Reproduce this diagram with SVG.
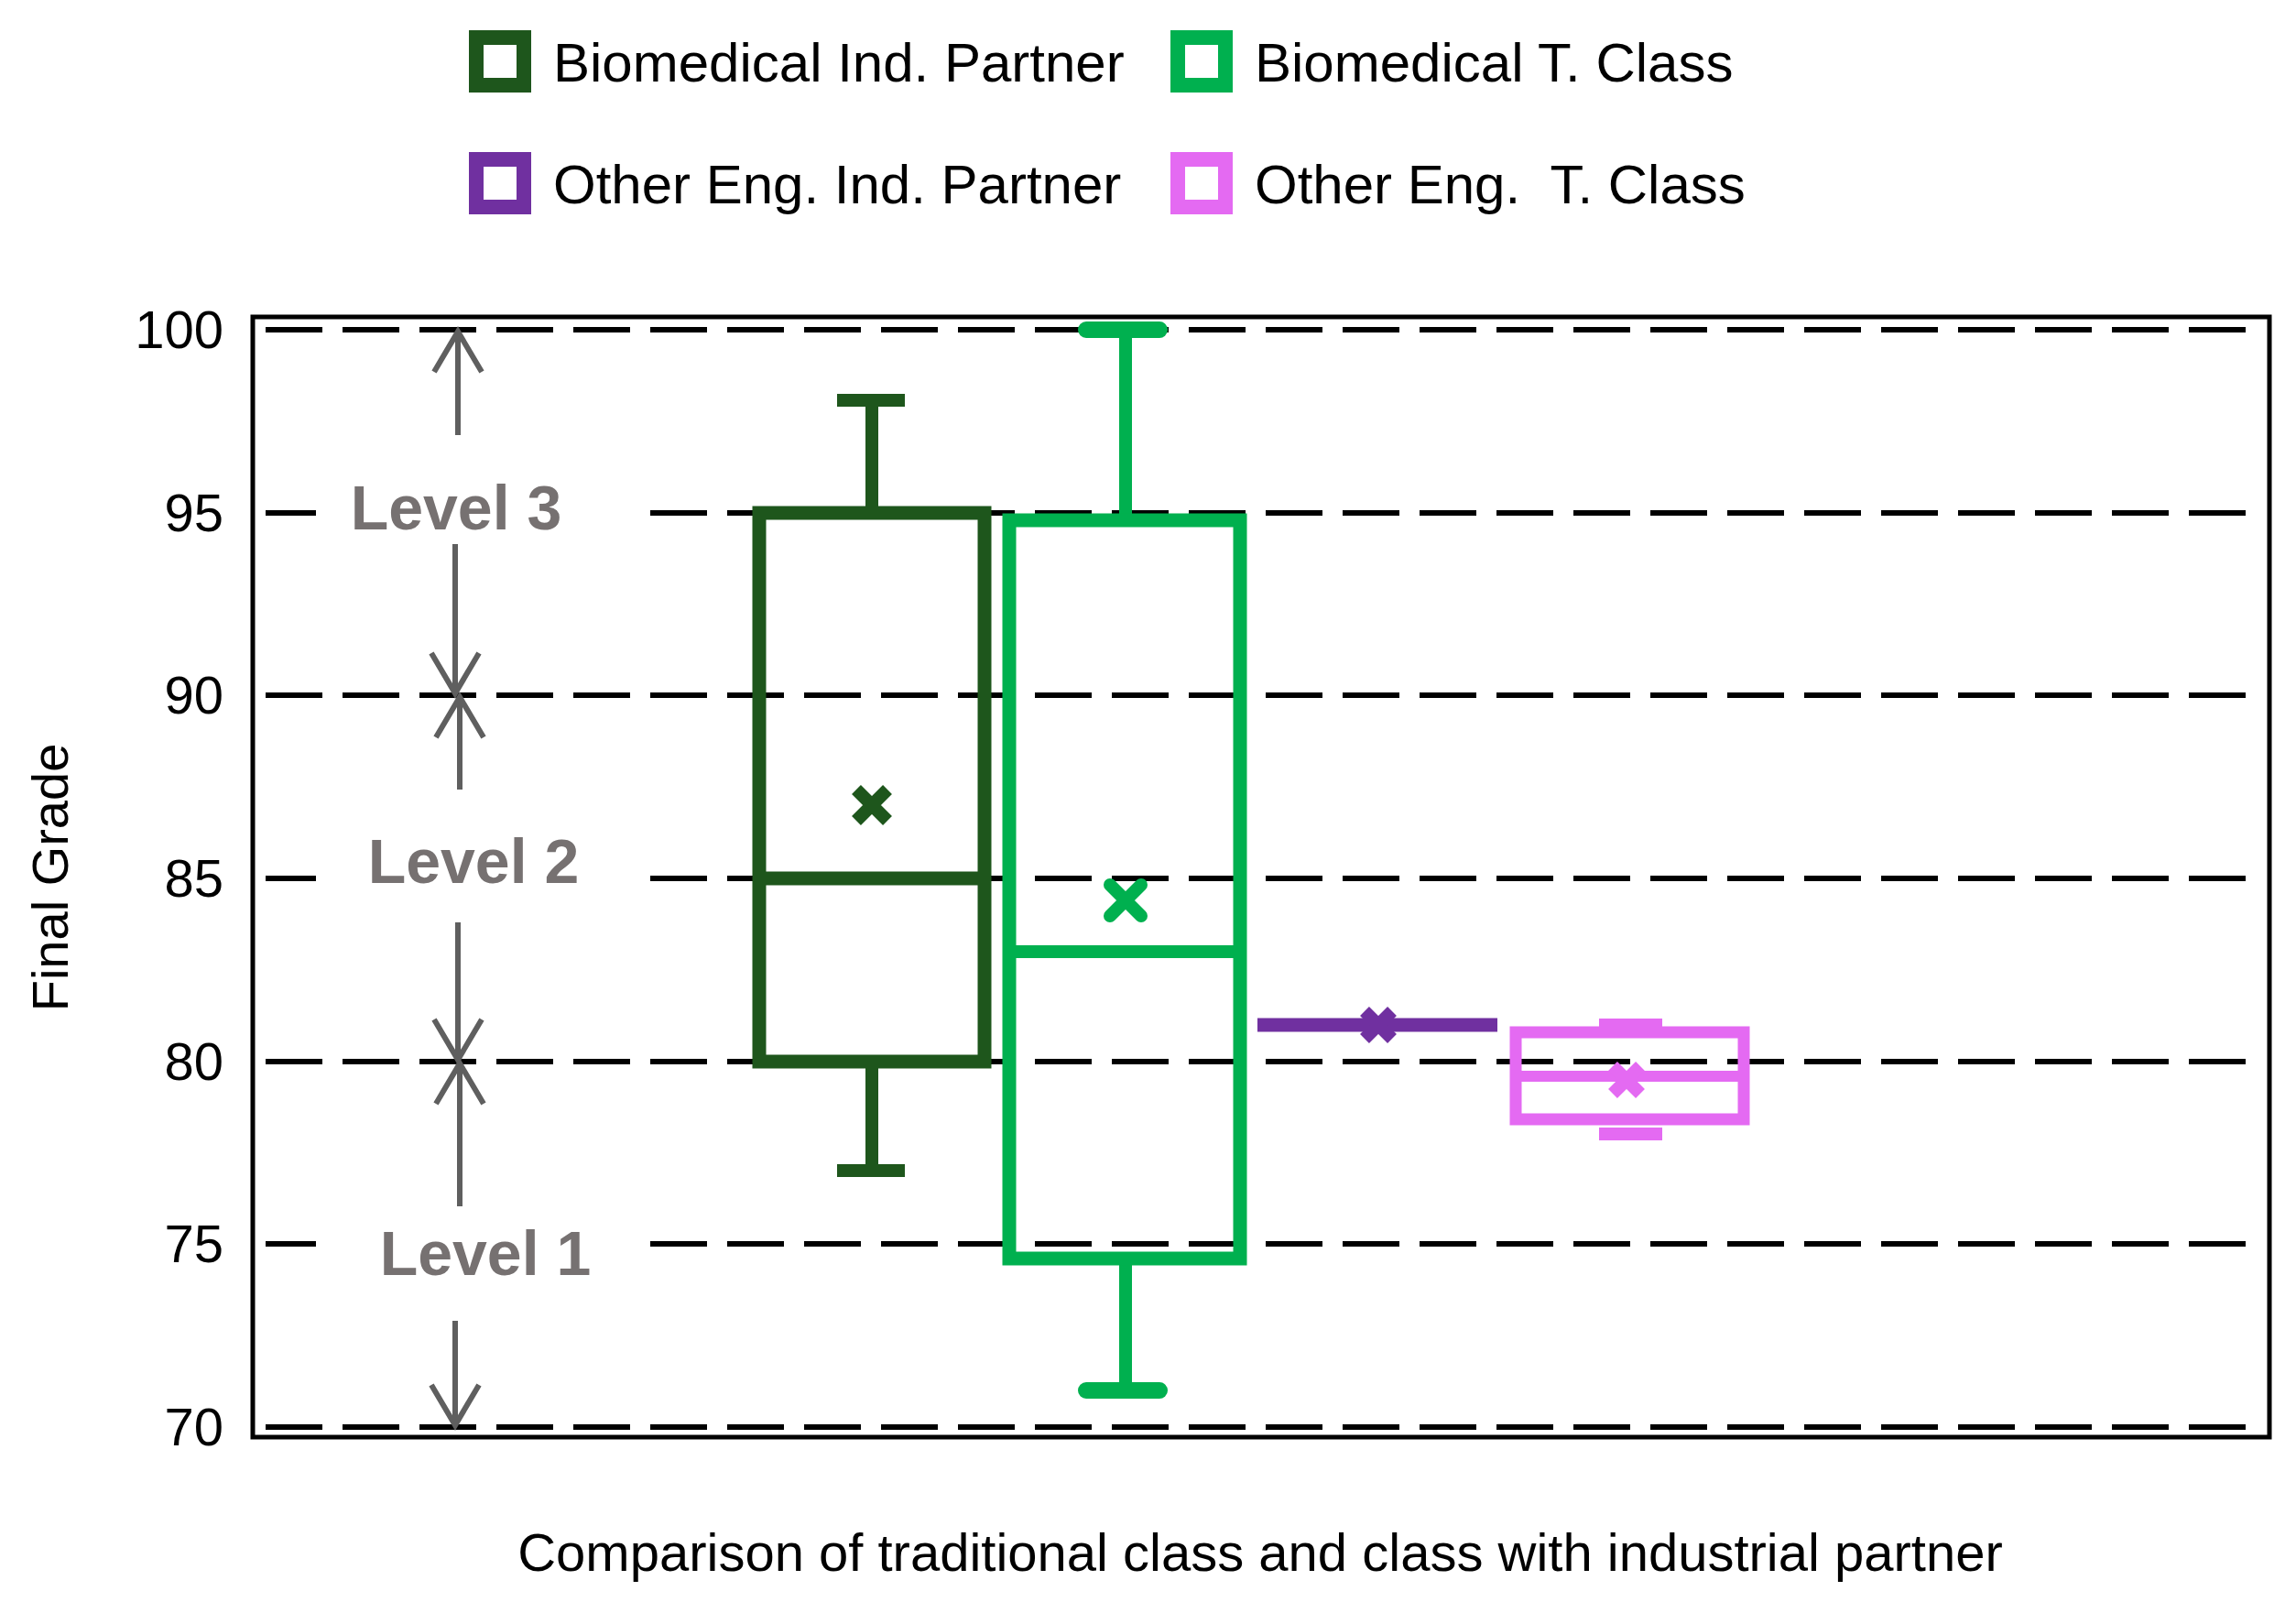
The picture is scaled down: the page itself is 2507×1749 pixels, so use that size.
<svg xmlns="http://www.w3.org/2000/svg" width="2507" height="1749" viewBox="0 0 2507 1749">
<defs><style>
text{font-family:"Liberation Sans",Arial,sans-serif}
.grid{stroke:#000;stroke-width:6;stroke-dasharray:62 22}
.tick{font-size:58px;text-anchor:end}
.lvl{font-size:68px;font-weight:bold;fill:#767171;text-anchor:middle}
.arr{stroke:#5f5f5f;stroke-width:6;fill:none}
.leg{font-size:60px}
</style></defs>
<rect width="2507" height="1749" fill="#fff"/>
<g id="grid">
<line class="grid" x1="290" y1="360" x2="2470" y2="360"/>
<line class="grid" x1="290" y1="560" x2="2470" y2="560"/>
<line class="grid" x1="290" y1="759" x2="2470" y2="759"/>
<line class="grid" x1="290" y1="959" x2="2470" y2="959"/>
<line class="grid" x1="290" y1="1159" x2="2470" y2="1159"/>
<line class="grid" x1="290" y1="1358" x2="2470" y2="1358"/>
<line class="grid" x1="290" y1="1558" x2="2470" y2="1558"/>
<rect x="345" y="520" width="350" height="80" fill="#fff"/>
<rect x="345" y="920" width="360" height="80" fill="#fff"/>
<rect x="345" y="1320" width="365" height="80" fill="#fff"/>
</g>
<rect id="frame" x="276" y="346" width="2202" height="1223" fill="none" stroke="#000" stroke-width="5"/>
<g id="yaxis">
<text class="tick" x="244" y="380">100</text>
<text class="tick" x="244" y="580">95</text>
<text class="tick" x="244" y="779">90</text>
<text class="tick" x="244" y="979">85</text>
<text class="tick" x="244" y="1179">80</text>
<text class="tick" x="244" y="1378">75</text>
<text class="tick" x="244" y="1578">70</text>
<text x="74" y="958" font-size="56" text-anchor="middle" transform="rotate(-90 74 958)">Final Grade</text>
</g>
<g id="levels">
<text class="lvl" x="498" y="578">Level 3</text>
<text class="lvl" x="517" y="964">Level 2</text>
<text class="lvl" x="530" y="1392">Level 1</text>
</g>
<g id="connectors">
<path class="arr" d="M500 475V362M474 406L500 362L526 406"/>
<path class="arr" d="M497 594V757M471 713L497 757L523 713"/>
<path class="arr" d="M502 862V761M476 805L502 761L528 805"/>
<path class="arr" d="M500 1007V1157M474 1113L500 1157L526 1113"/>
<path class="arr" d="M502 1317V1161M476 1205L502 1161L528 1205"/>
<path class="arr" d="M497 1442V1556M471 1512L497 1556L523 1512"/>
</g>
<g id="biomed-ind" stroke="#1e561c" fill="none">
<line x1="952" y1="440" x2="952" y2="560" stroke-width="14"/>
<line x1="914" y1="437" x2="988" y2="437" stroke-width="14"/>
<line x1="952" y1="1159" x2="952" y2="1278" stroke-width="14"/>
<line x1="914" y1="1278" x2="988" y2="1278" stroke-width="14"/>
<rect x="829" y="560" width="246" height="599" stroke-width="15"/>
<line x1="829" y1="959" x2="1075" y2="959" stroke-width="15"/>
<path d="M935 862L969 896M969 862L935 896" stroke-width="14"/>
</g>
<g id="biomed-trad" stroke="#00b04f" fill="none">
<line x1="1229" y1="360" x2="1229" y2="568" stroke-width="14"/>
<line x1="1186" y1="360" x2="1266" y2="360" stroke-width="18" stroke-linecap="round"/>
<line x1="1229" y1="1374" x2="1229" y2="1518" stroke-width="14"/>
<line x1="1186" y1="1518" x2="1266" y2="1518" stroke-width="18" stroke-linecap="round"/>
<rect x="1102" y="568" width="252" height="806" stroke-width="15"/>
<line x1="1102" y1="1039" x2="1354" y2="1039" stroke-width="14"/>
<path d="M1212 966L1246 1000M1246 966L1212 1000" stroke-width="14" stroke-linecap="round"/>
</g>
<g id="other-ind" stroke="#7030a0" fill="none">
<line x1="1373" y1="1119" x2="1635" y2="1119" stroke-width="15"/>
<path d="M1490 1104L1520 1134M1520 1104L1490 1134" stroke-width="14"/>
</g>
<g id="other-trad" stroke="#e46af2" fill="none">
<line x1="1746" y1="1119" x2="1815" y2="1119" stroke-width="14"/>
<line x1="1746" y1="1238" x2="1815" y2="1238" stroke-width="14"/>
<rect x="1655" y="1127" width="249" height="95" stroke-width="13"/>
<line x1="1655" y1="1175" x2="1904" y2="1175" stroke-width="12"/>
<path d="M1761 1164L1791 1194M1791 1164L1761 1194" stroke-width="14"/>
</g>
<g id="legend">
<rect x="520" y="41" width="52" height="52" fill="none" stroke="#1e561c" stroke-width="16"/>
<text class="leg" x="604" y="89">Biomedical Ind. Partner</text>
<rect x="1286" y="41" width="52" height="52" fill="none" stroke="#00b04f" stroke-width="16"/>
<text class="leg" x="1370" y="89">Biomedical T. Class</text>
<rect x="520" y="174" width="52" height="52" fill="none" stroke="#7030a0" stroke-width="16"/>
<text class="leg" x="604" y="222">Other Eng. Ind. Partner</text>
<rect x="1286" y="174" width="52" height="52" fill="none" stroke="#e46af2" stroke-width="16"/>
<text class="leg" x="1370" y="222" xml:space="preserve">Other Eng.  T. Class</text>
</g>
<text id="xtitle" x="1376" y="1715" font-size="58" text-anchor="middle">Comparison of traditional class and class with industrial partner</text>
</svg>
